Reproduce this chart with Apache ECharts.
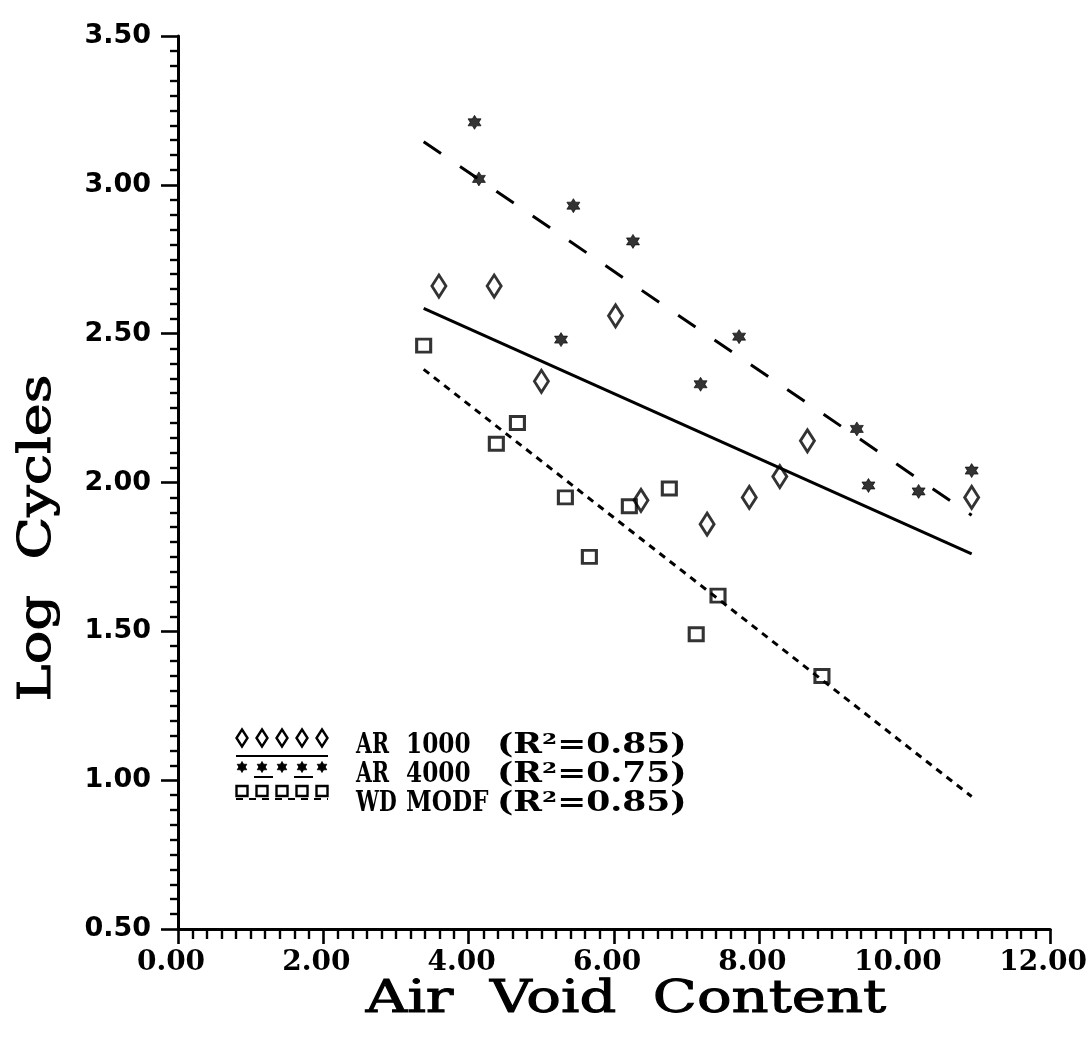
<!DOCTYPE html>
<html>
<head>
<meta charset="utf-8">
<script src="https://cdn.jsdelivr.net/npm/echarts@6/dist/echarts.min.js"></script>
<style>
  html, body { margin: 0; padding: 0; background: #ffffff; }
  #chart { width: 1090px; height: 1039px; }
</style>
</head>
<body>
<div id="chart"></div>
<script>
// Fatigue life (log cycles) against air void content for three mixes

// AR 1000 binder
const ar1000X = [3.59, 4.35, 5.00, 6.02, 6.37, 7.28, 7.86, 8.28, 8.66, 10.92];
const ar1000Y = [2.66, 2.66, 2.34, 2.56, 1.94, 1.86, 1.95, 2.02, 2.14, 1.95];

// AR 4000 binder
const ar4000X = [4.08, 4.14, 5.44, 6.26, 5.27, 7.72, 7.19, 9.34, 9.50, 10.19, 10.92];
const ar4000Y = [3.21, 3.02, 2.93, 2.81, 2.48, 2.49, 2.33, 2.18, 1.99, 1.97, 2.04];

// WD MODF binder
const wdX = [3.38, 4.38, 4.67, 5.33, 5.66, 6.21, 6.76, 7.43, 7.13, 8.86];
const wdY = [2.46, 2.13, 2.20, 1.95, 1.75, 1.92, 1.98, 1.62, 1.49, 1.35];

// Regression lines, drawn over the common void range
const fitX = [3.38, 10.92];
const ar1000FitY = [2.585, 1.76];
const ar4000FitY = [3.145, 1.89];
const wdFitY = [2.38, 0.945];

// Legend text columns
const legendBinder = ['AR', 'AR', 'WD'];
const legendGrade = ['1000', '4000', 'MODF'];
const legendR2 = ['(R\u00B2=0.85)', '(R\u00B2=0.75)', '(R\u00B2=0.85)'];

const xAxisTitle = 'Air  Void  Content';
const yAxisTitle = 'Log  Cycles';

function pairs(xs, ys) {
  return xs.map((x, i) => [x, ys[i]]);
}

// Six-pointed star outline
function hexagramPoints(R) {
  const pts = [];
  for (let k = 0; k < 12; k++) {
    const a = (-90 + 30 * k) * Math.PI / 180;
    const r = k % 2 === 0 ? R : R / Math.sqrt(3);
    pts.push([r * Math.cos(a), r * Math.sin(a)]);
  }
  return pts;
}
const starPath = 'path://' + hexagramPoints(10)
  .map((p, i) => (i ? 'L' : 'M') + p[0].toFixed(2) + ',' + p[1].toFixed(2))
  .join('') + 'Z';

const INK = '#000000';
const titleFont = 'DejaVu Serif';

// Hand-built legend: five markers over a line sample, then the label columns
const rowText = [746, 775, 804];
const rowMarker = [738, 767, 791];
const rowLine = [756, 777, 799];

function legendRow(row) {
  const els = [];
  const x0 = 242, step = 20;
  const my = rowMarker[row];
  for (let i = 0; i < 5; i++) {
    const cx = x0 + i * step;
    if (row === 0) {
      els.push({ type: 'polygon', x: cx, y: my,
        shape: { points: [[0, -8.5], [5.5, 0], [0, 8.5], [-5.5, 0]] },
        style: { fill: 'none', stroke: INK, lineWidth: 2.4 } });
    } else if (row === 1) {
      els.push({ type: 'polygon', x: cx, y: my,
        shape: { points: hexagramPoints(5.5) },
        style: { fill: INK, stroke: INK, lineWidth: 0.8 } });
    } else {
      els.push({ type: 'rect', x: cx, y: my,
        shape: { x: -5.5, y: -5, width: 11, height: 10 },
        style: { fill: 'none', stroke: INK, lineWidth: 2.4 } });
    }
  }
  const ly = rowLine[row];
  const dash = row === 0 ? null : (row === 1 ? [19, 21] : [7, 6]);
  els.push({ type: 'line', shape: { x1: x0 - 6, y1: ly, x2: x0 + 4 * step + 6, y2: ly },
    style: { stroke: INK, lineWidth: 2.2, lineDash: dash, lineDashOffset: row === 1 ? -18 : 0 } });
  const font = 'bold 27px "' + titleFont + '"';
  const ty = rowText[row];
  els.push({ type: 'text', x: 356, y: ty, scaleX: 0.76,
    style: { text: legendBinder[row], font: font, fill: INK, align: 'left', verticalAlign: 'middle' } });
  els.push({ type: 'text', x: 406, y: ty, scaleX: 0.86,
    style: { text: legendGrade[row], font: font, fill: INK, align: 'left', verticalAlign: 'middle' } });
  els.push({ type: 'text', x: 497, y: ty, scaleX: 1.28,
    style: { text: legendR2[row], font: font, fill: INK, align: 'left', verticalAlign: 'middle' } });
  return els;
}

const legendEls = [].concat(legendRow(0), legendRow(1), legendRow(2));

const chart = echarts.init(document.getElementById('chart'), null, { renderer: 'canvas' });

chart.setOption({
  animation: false,
  backgroundColor: '#ffffff',
  grid: { left: 178, top: 36, width: 877, height: 893, containLabel: false },
  xAxis: {
    type: 'value', min: 0, max: 12, interval: 2,
    axisLine: { show: true, onZero: false, lineStyle: { color: INK, width: 3 } },
    axisTick: { show: true, length: 15, lineStyle: { color: INK, width: 2.6 } },
    minorTick: { show: true, splitNumber: 10, length: 10, lineStyle: { color: INK, width: 2.4 } },
    splitLine: { show: false },
    minorSplitLine: { show: false },
    axisLabel: {
      formatter: v => v.toFixed(2), margin: 20, color: INK,
      fontFamily: titleFont, fontWeight: 'bold', fontSize: 28,
      padding: [0, 14, 0, 0]
    }
  },
  yAxis: {
    type: 'value', min: 0.5, max: 3.5, interval: 0.5,
    axisLine: { show: true, onZero: false, lineStyle: { color: INK, width: 3 } },
    axisTick: { show: true, length: 17, lineStyle: { color: INK, width: 2.6 } },
    minorTick: { show: true, splitNumber: 10, length: 8, lineStyle: { color: INK, width: 2.4 } },
    splitLine: { show: false },
    minorSplitLine: { show: false },
    axisLabel: {
      formatter: v => v.toFixed(2), margin: 27, color: INK,
      fontFamily: 'DejaVu Sans', fontWeight: 'bold', fontSize: 27
    }
  },
  series: [
    { name: 'AR 1000 fit', type: 'line', data: pairs(fitX, ar1000FitY), symbol: 'none', z: 1,
      lineStyle: { color: INK, width: 3, type: 'solid' } },
    { name: 'AR 4000 fit', type: 'line', data: pairs(fitX, ar4000FitY), symbol: 'none', z: 1,
      lineStyle: { color: INK, width: 3, type: [21, 23] } },
    { name: 'WD MODF fit', type: 'line', data: pairs(fitX, wdFitY), symbol: 'none', z: 1,
      lineStyle: { color: INK, width: 3, type: [7, 6] } },
    { name: 'AR 1000', type: 'scatter', data: pairs(ar1000X, ar1000Y), z: 3,
      symbol: 'diamond', symbolSize: [14, 22],
      itemStyle: { color: 'rgba(255,255,255,0)', borderColor: INK, borderWidth: 3 } },
    { name: 'AR 4000', type: 'scatter', data: pairs(ar4000X, ar4000Y), z: 3,
      symbol: starPath, symbolSize: [13, 14],
      itemStyle: { color: INK, borderColor: INK, borderWidth: 0.8 } },
    { name: 'WD MODF', type: 'scatter', data: pairs(wdX, wdY), z: 3,
      symbol: 'rect', symbolSize: [14, 13],
      itemStyle: { color: 'rgba(255,255,255,0)', borderColor: INK, borderWidth: 3 } }
  ],
  graphic: [
    { type: 'text', x: 626, y: 1000, scaleX: 1.28,
      style: { text: xAxisTitle, font: '45px "' + titleFont + '"', fill: INK,
        stroke: INK, lineWidth: 1, align: 'center', verticalAlign: 'middle' } },
    { type: 'text', x: 38, y: 538, rotation: Math.PI / 2, scaleX: 1.24,
      style: { text: yAxisTitle, font: '45px "' + titleFont + '"', fill: INK,
        stroke: INK, lineWidth: 1, align: 'center', verticalAlign: 'middle' } }
  ].concat(legendEls)
});
</script>
</body>
</html>
